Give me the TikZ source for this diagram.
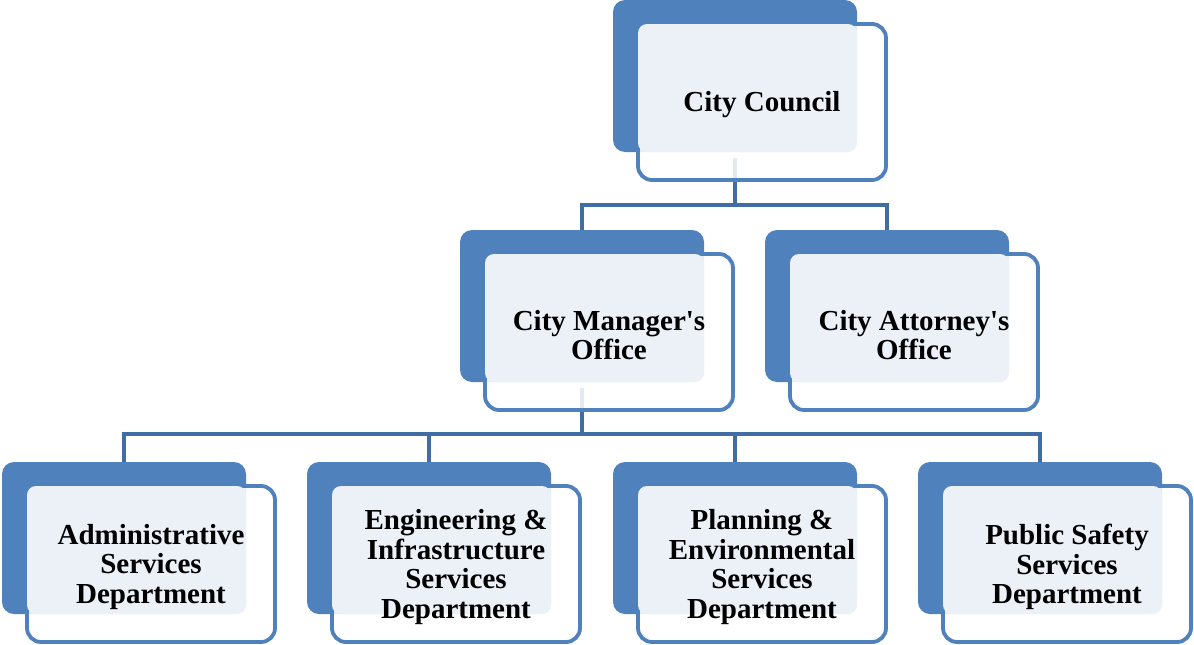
\documentclass[tikz,border=0pt]{standalone}
\usepackage{fontspec}
\setmainfont{Liberation Serif}
\usetikzlibrary{backgrounds}
\definecolor{backblue}{RGB}{79,129,189}
\definecolor{connblue}{RGB}{64,109,163}
\definecolor{lightfill}{RGB}{236,241,248}
\tikzset{
  backbox/.style={fill=backblue, draw=none, rounded corners=12pt, minimum width=244pt, minimum height=152pt, inner sep=0pt, outer sep=0pt},
  frontbox/.style={draw=backblue, line width=3.8pt, fill=white, fill opacity=0.85, rounded corners=14pt, minimum width=248pt, minimum height=156pt, inner sep=0pt, outer sep=0pt},
  lightbox/.style={fill=lightfill, rounded corners=9pt},
  txt/.style={align=center, font=\fontsize{29pt}{29.5pt}\selectfont\bfseries, text=black, inner sep=0pt},
  conn/.style={draw=connblue, line width=4pt}
}
\newcommand\orgunit[4]{%
  \node[backbox] (#1B) at ({#2+122}, {-#3-76}) {};
  \node[frontbox] (#1F) at ({#2+149}, {-#3-102}) {};
  \fill[lightbox] ({#2+25}, {-#3-24}) rectangle ({#2+244}, {-#3-152});
  \node[txt] (#1T) at ([yshift=-3pt]#1F.center) {#4};
}
\begin{document}
\begin{tikzpicture}[x=1pt, y=1pt]
\useasboundingbox (0,0) rectangle (1194,-645);
\orgunit{cc}{613}{0}{City Council}
\orgunit{cm}{460}{230}{City Manager\textquotesingle s\\Office}
\orgunit{ca}{765}{230}{City Attorney\textquotesingle s\\Office}
\orgunit{ad}{2}{462}{Administrative\\Services\\Department}
\orgunit{en}{307}{462}{Engineering \&\\Infrastructure\\Services\\Department}
\orgunit{pl}{613}{462}{Planning \&\\Environmental\\Services\\Department}
\orgunit{ps}{918}{462}{Public Safety\\Services\\Department}
\begin{scope}[on background layer]
  \coordinate (j1) at ([yshift=-53pt]ccB.south);
  \coordinate (j2) at ([yshift=-52pt]cmB.south);
  \draw[conn] ([yshift=-6pt]ccB.south) -- (j1);
  \draw[conn] (cmB.north) |- (j1) -| (caB.north);
  \draw[conn] ([yshift=-6pt]cmB.south) -- (j2);
  \draw[conn] (adB.north) |- (j2) -| (psB.north);
  \draw[conn] (enB.north) -- (enB.north |- j2);
  \draw[conn] (plB.north) -- (plB.north |- j2);
\end{scope}
\end{tikzpicture}
\end{document}
